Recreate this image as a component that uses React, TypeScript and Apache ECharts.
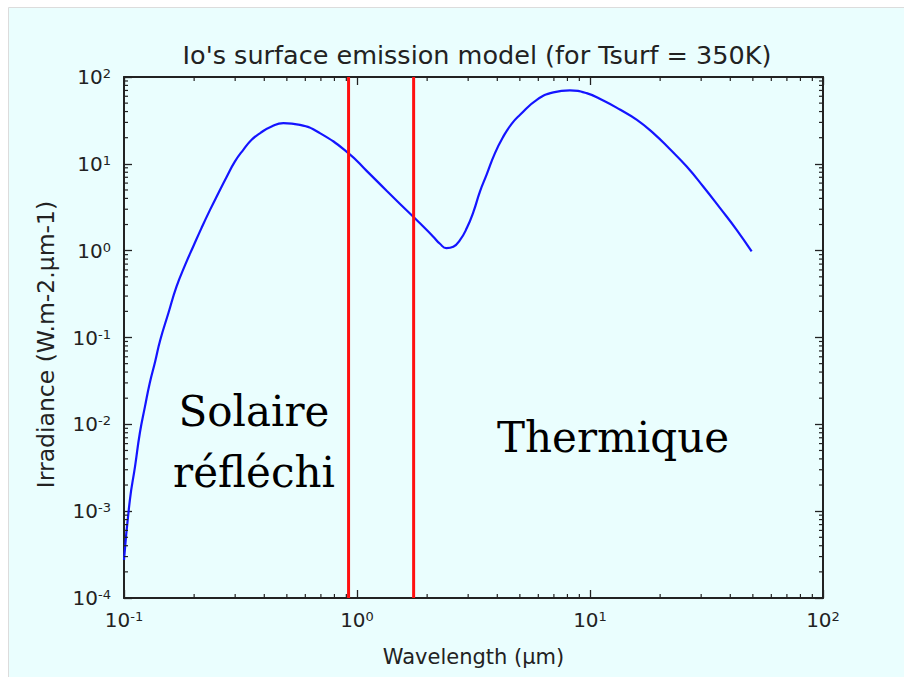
import React, { useEffect, useRef } from 'react';
import * as echarts from 'echarts';

// Wavelength (µm) and irradiance (W.m-2.µm-1)
const wavelength = [
  0.1, 0.106, 0.1115, 0.117, 0.123, 0.129, 0.136, 0.143, 0.155, 0.168, 0.183, 0.198, 0.215, 0.234, 0.254, 0.276,
  0.299, 0.325, 0.353, 0.384, 0.43, 0.483, 0.569, 0.693, 0.918, 1.1, 1.34, 1.74, 1.925, 2.12, 2.27, 2.42, 2.59,
  2.77, 2.96, 3.16, 3.37, 3.6, 3.91, 4.25, 4.61, 5.01, 5.91, 6.96, 8.2, 9.67, 11.4, 13.5, 15.9, 18.7, 22, 26, 30.6,
  36.1, 42.6, 49.4,
];
const irradiance = [
  2.75e-4, 1.35e-3, 3.26e-3, 8e-3, 0.016, 0.03, 0.0527, 0.093, 0.19, 0.385, 0.685, 1.11, 1.82, 2.95, 4.59, 7.1,
  10.6, 14.5, 18.9, 22.6, 26.9, 29.4, 28.1, 22.6, 13.3, 8.3, 4.9, 2.47, 1.9, 1.46, 1.2, 1.07, 1.11,
  1.33, 1.82, 2.8, 4.8, 7.5, 13.3, 20.7, 28.9, 36.7, 54.6, 66.4, 70, 65.2, 53.6, 41.9, 32.1, 22.6, 14.8, 9.3, 5.48,
  3.11, 1.74, 0.98,
];

// Vertical red boundaries (µm)
const boundaries = [0.92, 1.75];

// Axis ranges
const xRange = [0.1, 100];
const yRange = [1e-4, 100];

// Minor tick positions (log axes)
const xMinorTicks = [0.2, 0.3, 0.4, 0.5, 0.6, 0.7, 0.8, 0.9, 2, 3, 4, 5, 6, 7, 8, 9, 20, 30, 40, 50, 60, 70, 80, 90];
const yMinorTicks = [
  2e-4, 3e-4, 4e-4, 5e-4, 6e-4, 7e-4, 8e-4, 9e-4,
  2e-3, 3e-3, 4e-3, 5e-3, 6e-3, 7e-3, 8e-3, 9e-3,
  0.02, 0.03, 0.04, 0.05, 0.06, 0.07, 0.08, 0.09,
  0.2, 0.3, 0.4, 0.5, 0.6, 0.7, 0.8, 0.9,
  2, 3, 4, 5, 6, 7, 8, 9,
  20, 30, 40, 50, 60, 70, 80, 90,
];

const titleText = "Io's surface emission model (for Tsurf = 350K)";
const xName = 'Wavelength (µm)';
const yName = 'Irradiance (W.m-2.µm-1)';
const solarLines = ['Solaire', 'réfléchi'];
const thermalLabel = 'Thermique';

const INK = '#222222';
const SANS = 'DejaVu Sans';
const SERIF = 'DejaVu Serif';

const powLabel = (v: number) => {
  const e = Math.round(Math.log10(v));
  return '10{sup|' + e + '}';
};

const labelRich = {
  sup: { fontSize: 13, fontFamily: SANS, color: INK, verticalAlign: 'top' as const },
};

export default function App() {
  const ref = useRef<HTMLDivElement>(null);

  useEffect(() => {
    if (!ref.current) return;
    const chart = echarts.init(ref.current, null, { renderer: 'svg' });

    const axisLine = { show: true, onZero: false, lineStyle: { color: INK, width: 2 } };
    const axisTick = { show: true, inside: true, length: 8, lineStyle: { color: INK, width: 1.3 } };

    const minorLen = 4;
    const minorStyle = { stroke: INK, lineWidth: 1.2 };

    const curve = wavelength.map((w, i) => [w, irradiance[i]]);

    const annot = (text: string, x: number, y: number) => ({
      type: 'text',
      z: 100,
      x,
      y,
      style: {
        text,
        fontFamily: SERIF,
        fontSize: 42,
        fill: '#000',
        align: 'center',
        verticalAlign: 'middle',
      },
    });

    const option: any = {
      animation: false,
      backgroundColor: 'transparent',
      title: {
        text: titleText,
        left: 472,
        top: 37,
        textAlign: 'center',
        textStyle: { fontFamily: SANS, fontSize: 25.5, fontWeight: 'normal', color: INK },
      },
      grid: { left: 124, right: 81, top: 77, bottom: 79, containLabel: false },
      xAxis: [
        {
          type: 'log',
          logBase: 10,
          min: xRange[0],
          max: xRange[1],
          position: 'bottom',
          axisLine,
          axisTick,
          splitLine: { show: false },
          axisLabel: {
            formatter: powLabel,
            rich: labelRich,
            margin: 12,
            color: INK,
            fontSize: 20,
            fontFamily: SANS,
          },
          name: xName,
          nameLocation: 'middle',
          nameGap: 48,
          nameTextStyle: { fontFamily: SANS, fontSize: 21, color: INK },
        },
        {
          type: 'log',
          logBase: 10,
          min: xRange[0],
          max: xRange[1],
          position: 'top',
          axisLine,
          axisTick,
          splitLine: { show: false },
          axisLabel: { show: false },
        },
      ],
      yAxis: [
        {
          type: 'log',
          logBase: 10,
          min: yRange[0],
          max: yRange[1],
          position: 'left',
          axisLine,
          axisTick,
          splitLine: { show: false },
          axisLabel: {
            formatter: powLabel,
            rich: labelRich,
            margin: 13,
            color: INK,
            fontSize: 20,
            fontFamily: SANS,
          },
          name: yName,
          nameLocation: 'middle',
          nameGap: 66,
          nameTextStyle: { fontFamily: SANS, fontSize: 23.5, color: INK, padding: [0, 14, 0, 0] },
        },
        {
          type: 'log',
          logBase: 10,
          min: yRange[0],
          max: yRange[1],
          position: 'right',
          axisLine,
          axisTick,
          splitLine: { show: false },
          axisLabel: { show: false },
        },
      ],
      series: [
        {
          type: 'line',
          name: 'emission',
          xAxisIndex: 0,
          yAxisIndex: 0,
          data: curve,
          smooth: 0.5,
          showSymbol: false,
          lineStyle: { color: '#1414ff', width: 2.2 },
          z: 3,
        },
        ...boundaries.map((b) => ({
          type: 'line',
          xAxisIndex: 0,
          yAxisIndex: 0,
          data: [
            [b, yRange[0]],
            [b, yRange[1]],
          ],
          showSymbol: false,
          lineStyle: { color: '#ff1010', width: 3 },
          z: 4,
        })),
        {
          type: 'custom',
          coordinateSystem: 'cartesian2d',
          xAxisIndex: 0,
          yAxisIndex: 0,
          silent: true,
          clip: false,
          z: 6,
          data: xMinorTicks.map((v) => [v, 1]),
          renderItem: (params: any, api: any) => {
            const x = api.coord([api.value(0), 1])[0];
            const yb = api.coord([1, yRange[0]])[1];
            const yt = api.coord([1, yRange[1]])[1];
            return {
              type: 'group',
              children: [
                { type: 'line', shape: { x1: x, y1: yb, x2: x, y2: yb - minorLen }, style: minorStyle },
                { type: 'line', shape: { x1: x, y1: yt, x2: x, y2: yt + minorLen }, style: minorStyle },
              ],
            };
          },
        },
        {
          type: 'custom',
          coordinateSystem: 'cartesian2d',
          xAxisIndex: 0,
          yAxisIndex: 0,
          silent: true,
          clip: false,
          z: 6,
          data: yMinorTicks.map((v) => [1, v]),
          renderItem: (params: any, api: any) => {
            const y = api.coord([1, api.value(1)])[1];
            const xl = api.coord([xRange[0], 1])[0];
            const xr = api.coord([xRange[1], 1])[0];
            return {
              type: 'group',
              children: [
                { type: 'line', shape: { x1: xl, y1: y, x2: xl + minorLen, y2: y }, style: minorStyle },
                { type: 'line', shape: { x1: xr, y1: y, x2: xr - minorLen, y2: y }, style: minorStyle },
              ],
            };
          },
        },
      ],
      graphic: [
        {
          type: 'rect',
          z: -100,
          silent: true,
          shape: { x: 8.5, y: 7.5, width: 900, height: 675 },
          style: { fill: '#eafefe', stroke: '#dcdcdc', lineWidth: 1 },
        },
        annot(solarLines[0], 254, 411),
        annot(solarLines[1], 254, 472),
        annot(thermalLabel, 613, 437),
      ],
    };

    chart.setOption(option);
    return () => chart.dispose();
  }, []);

  return (
    <div
      ref={ref}
      style={{ position: 'fixed', left: 0, top: 0, width: 904, height: 677, background: '#ffffff' }}
    />
  );
}
